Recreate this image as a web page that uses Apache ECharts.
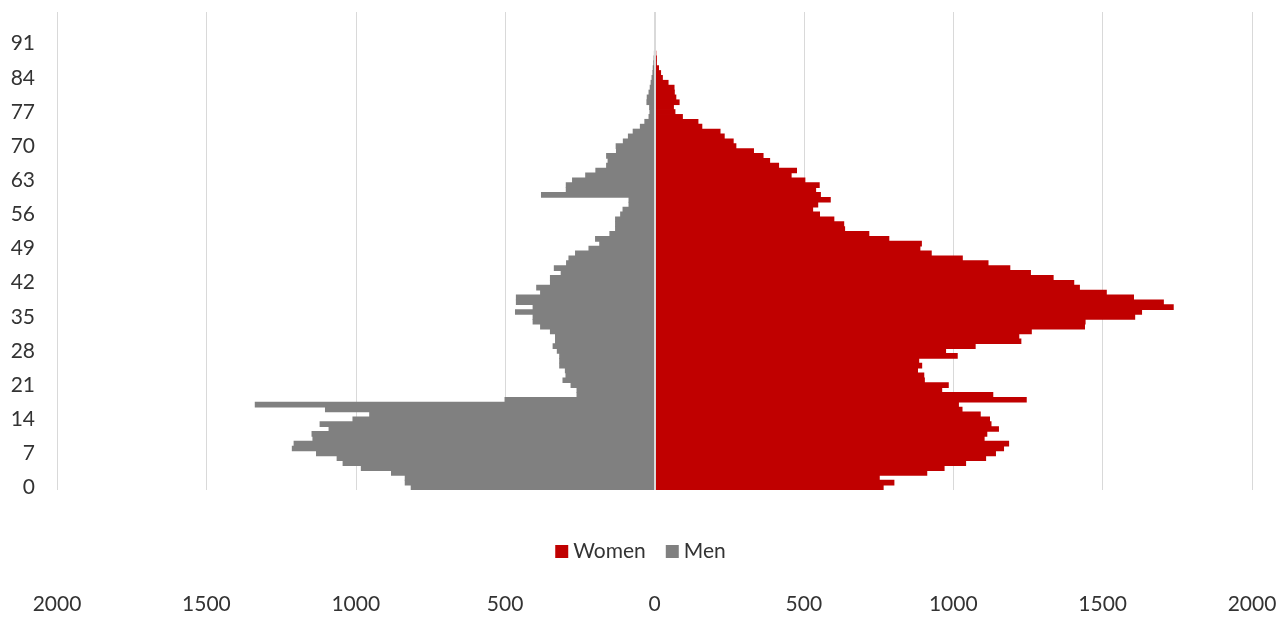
<!DOCTYPE html>
<html>
<head>
<meta charset="utf-8">
<title>Population by age</title>
<script src="https://cdn.jsdelivr.net/npm/echarts@6/dist/echarts.min.js"></script>
<style>
  html, body { margin: 0; padding: 0; background: #ffffff; }
  #chart { width: 1281px; height: 617px; }
</style>
</head>
<body>
<div id="chart"></div>
<script>
// Ages 0..97 (one bar per year of age)
const ages = Array.from({ length: 98 }, (_, i) => String(i));

// Women, by age 0..97
const women = [
  767, 803, 754, 913, 971, 1043, 1110, 1143, 1170, 1187,
  1105, 1114, 1153, 1128, 1123, 1092, 1031, 1019, 1246, 1134,
  963, 985, 905, 903, 882, 896, 886, 1015, 976, 1075,
  1228, 1221, 1263, 1441, 1443, 1609, 1632, 1738, 1705, 1605,
  1514, 1424, 1405, 1336, 1260, 1191, 1118, 1032, 928, 890,
  895, 786, 719, 638, 635, 602, 554, 531, 548, 590,
  557, 541, 553, 505, 459, 477, 417, 387, 365, 333,
  274, 265, 235, 221, 160, 147, 95, 70, 65, 84,
  73, 68, 67, 47, 28, 22, 15, 8, 8, 6,
  5, 4, 3, 2, 0, 0, 0, 0
];

// Men, by age 0..97
const men = [
  816, 836, 836, 882, 983, 1044, 1064, 1133, 1214, 1208,
  1145, 1148, 1091, 1121, 1011, 955, 1103, 1338, 502, 261,
  261, 281, 308, 298, 300, 319, 319, 319, 327, 341,
  333, 333, 350, 383, 408, 408, 467, 408, 464, 464,
  383, 396, 350, 350, 314, 337, 296, 288, 266, 221,
  185, 199, 151, 132, 132, 132, 115, 107, 87, 87,
  380, 297, 297, 276, 232, 198, 162, 157, 162, 129,
  130, 106, 89, 73, 49, 34, 20, 17, 18, 27,
  26, 20, 16, 13, 10, 7, 6, 4, 3, 2,
  1, 1, 0, 0, 0, 0, 0, 0
];

// Value axis ticks (men plotted to the left of zero)
const axisMin = -2000;
const axisMax = 2000;
const axisStep = 500;

const FONT = 'Lato, "Noto Sans", sans-serif';
const TEXT = '#333333';
const RED = '#c00000';
const GREY = '#808080';

const chart = echarts.init(document.getElementById('chart'), null, { renderer: 'canvas' });

chart.setOption({
  animation: false,
  backgroundColor: '#ffffff',
  textStyle: { fontFamily: FONT },
  legend: {
    data: ['Women', 'Men'],
    left: 'center',
    top: 536,
    icon: 'rect',
    itemWidth: 13,
    itemHeight: 13,
    itemGap: 20,
    textStyle: { fontFamily: FONT, fontSize: 21, color: TEXT }
  },
  grid: { left: 57, right: 29, top: 12, bottom: 127, containLabel: false },
  xAxis: {
    type: 'value',
    min: axisMin,
    max: axisMax,
    interval: axisStep,
    axisLine: { show: false },
    axisTick: { show: false },
    splitLine: { show: true, lineStyle: { color: '#d9d9d9', width: 1 } },
    axisLabel: {
      margin: 104,
      fontFamily: FONT,
      fontSize: 21,
      color: TEXT,
      formatter: v => String(Math.abs(v))
    }
  },
  yAxis: {
    type: 'category',
    data: ages,
    axisLine: { show: false },
    axisTick: { show: false },
    splitLine: { show: false },
    axisLabel: {
      interval: 6,
      margin: 22,
      fontFamily: FONT,
      fontSize: 21,
      color: TEXT
    }
  },
  series: [
    {
      name: 'Women',
      type: 'bar',
      stack: 'pop',
      data: women,
      // bars slightly taller than one age band so neighbouring years touch without seams
      barWidth: '116%',
      itemStyle: { color: RED },
      markLine: {
        silent: true,
        symbol: 'none',
        label: { show: false },
        lineStyle: { color: '#d9d9d9', width: 2, type: 'solid' },
        data: [{ xAxis: 0 }]
      }
    },
    {
      name: 'Men',
      type: 'bar',
      stack: 'pop',
      data: men.map(v => -v),
      barWidth: '116%',
      itemStyle: { color: GREY }
    }
  ]
});
</script>
</body>
</html>
